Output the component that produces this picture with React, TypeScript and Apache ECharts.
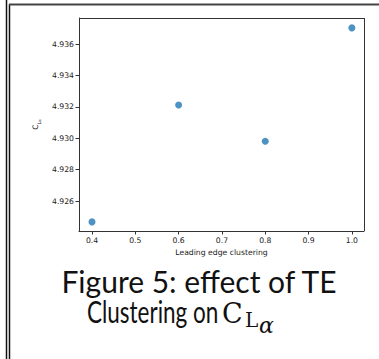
import React, { useEffect, useRef } from "react";
import * as echarts from "echarts";

// Leading edge clustering factor vs. lift-curve slope
const clustering = [0.4, 0.6, 0.8, 1.0];
const liftSlope = [4.92467, 4.93212, 4.92981, 4.93703];

const xTicks = [0.4, 0.5, 0.6, 0.7, 0.8, 0.9, 1.0];
const yTicks = [4.926, 4.928, 4.93, 4.932, 4.934, 4.936];

const W = 379;
const H = 359;

export default function App() {
  const ref = useRef<HTMLDivElement>(null);

  useEffect(() => {
    if (!ref.current) return;
    const chart = echarts.init(ref.current, null, { renderer: "svg", width: W, height: H });
    const tickFont = { fontFamily: "DejaVu Sans", fontSize: 7.7, color: "#222" };
    const axisLine = { show: true, lineStyle: { color: "#333", width: 1 } };
    const captionText = (
      text: string,
      x: number,
      y: number,
      font: string,
      size: number,
      italic = false,
      scaleX = 1
    ) => ({
      type: "text",
      x,
      y,
      scaleX,
      style: {
        text,
        fontFamily: font,
        fontSize: size,
        lineHeight: size,
        fontStyle: italic ? "italic" : "normal",
        fill: "#111",
        align: "left",
        verticalAlign: "middle",
      },
    });

    chart.setOption({
      animation: false,
      backgroundColor: "#fff",
      grid: { left: 79, top: 18, right: 15, bottom: 128, show: false },
      xAxis: {
        type: "value",
        min: 0.37,
        max: 1.028,
        name: "Leading edge clustering",
        nameLocation: "middle",
        nameGap: 17,
        nameTextStyle: { ...tickFont },
        axisLine: { ...axisLine, onZero: false },
        axisTick: { show: true, length: 3.5, inside: false, customValues: xTicks, lineStyle: { color: "#333" } },
        axisLabel: {
          ...tickFont,
          margin: 5,
          customValues: xTicks,
          formatter: (v: number) => v.toFixed(1),
        },
        splitLine: { show: false },
      },
      yAxis: {
        type: "value",
        min: 4.92409,
        max: 4.93766,
        name: "{c|C}{l|L}{a|α}",
        nameLocation: "middle",
        nameRotate: 90,
        nameGap: 37,
        nameTextStyle: {
          rich: {
            c: { fontFamily: "DejaVu Sans", fontSize: 7.5, color: "#222" },
            l: { fontFamily: "DejaVu Sans", fontSize: 5, color: "#222", verticalAlign: "bottom", lineHeight: 10 },
            a: { fontFamily: "DejaVu Sans", fontSize: 3.8, color: "#222", verticalAlign: "bottom", lineHeight: 11 },
          },
        },
        axisLine: { ...axisLine, onZero: false },
        axisTick: { show: true, length: 3.5, inside: false, customValues: yTicks, lineStyle: { color: "#333" } },
        axisLabel: {
          ...tickFont,
          margin: 5,
          customValues: yTicks,
          formatter: (v: number) => v.toFixed(3),
        },
        splitLine: { show: false },
      },
      series: [
        {
          type: "scatter",
          data: clustering.map((x, i) => [x, liftSlope[i]]),
          symbolSize: 7,
          itemStyle: { color: "#1f77b4" },
        },
      ],
      graphic: [
        // page borders
        { type: "line", shape: { x1: 6.5, y1: 0, x2: 6.5, y2: H }, style: { stroke: "#111", lineWidth: 1.5 } },
        { type: "line", shape: { x1: 9.5, y1: 4, x2: 9.5, y2: H }, style: { stroke: "#111", lineWidth: 1.5 } },
        { type: "line", shape: { x1: 9, y1: 4.5, x2: W, y2: 4.5 }, style: { stroke: "#444", lineWidth: 2 } },
        // plot frame (top and right spines)
        { type: "line", shape: { x1: 79, y1: 18.5, x2: 364.5, y2: 18.5 }, style: { stroke: "#333", lineWidth: 1 } },
        { type: "line", shape: { x1: 364.5, y1: 18, x2: 364.5, y2: 231 }, style: { stroke: "#333", lineWidth: 1 } },
        // caption
        {
          type: "text",
          x: 199,
          y: 281,
          style: {
            text: "Figure 5: effect of TE",
            fontFamily: "Lato",
            fontSize: 30,
            lineHeight: 28,
            fill: "#111",
            align: "center",
            verticalAlign: "middle",
          },
        },
        captionText("Clustering on", 87, 312, "Lato", 30, false, 0.75),
        captionText("C", 222, 313, "DejaVu Serif", 27),
        captionText("L", 245, 320, "DejaVu Serif", 20),
        captionText("α", 259, 325, "DejaVu Serif", 22, true),
      ],
    });
    return () => chart.dispose();
  }, []);

  return <div ref={ref} style={{ position: "fixed", left: 0, top: 0, width: W, height: H }} />;
}
